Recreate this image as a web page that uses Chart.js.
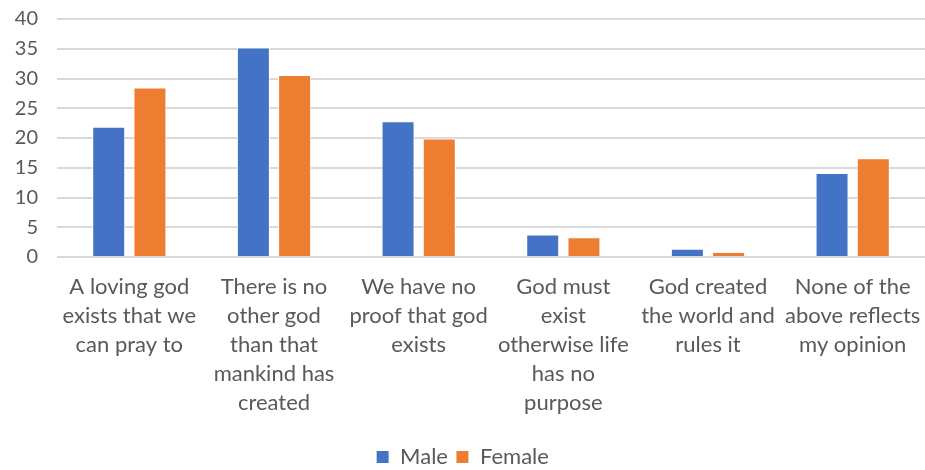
<!DOCTYPE html>
<html>
<head>
<meta charset="utf-8">
<script src="https://cdn.jsdelivr.net/npm/chart.js@4/dist/chart.umd.min.js"></script>
<style>
  html, body { margin: 0; padding: 0; background: #fff; }
  #wrap { width: 925px; height: 470px; }
</style>
</head>
<body>
<div id="wrap"><canvas id="c" width="925" height="470"></canvas></div>
<script>
const categories = [
  ["A loving god", "exists that we", "can pray to"],
  ["There is no", "other god", "than that", "mankind has", "created"],
  ["We have no", "proof that god", "exists"],
  ["God must", "exist", "otherwise life", "has no", "purpose"],
  ["God created", "the world and", "rules it"],
  ["None of the", "above reflects", "my opinion"]
];
const seriesNames = ["Male", "Female"];
const maleValues = [21.9, 35.2, 22.8, 3.8, 1.4, 14.1];
const femaleValues = [28.5, 30.6, 19.9, 3.3, 0.85, 16.6];
const yTicks = [0, 5, 10, 15, 20, 25, 30, 35, 40];

const FONT = "Lato, 'Open Sans', sans-serif";

function zeroPad(s) { s.paddingTop = 0; s.paddingBottom = 0; s.paddingLeft = 0; s.paddingRight = 0; }

new Chart(document.getElementById('c'), {
  type: 'bar',
  data: {
    labels: categories,
    datasets: [
      { label: seriesNames[0], data: maleValues, backgroundColor: '#4472C4', borderColor: '#ffffff', borderWidth: 1,
        categoryPercentage: 0.57, barPercentage: 0.8 },
      { label: seriesNames[1], data: femaleValues, backgroundColor: '#ED7D31', borderColor: '#ffffff', borderWidth: 1,
        categoryPercentage: 0.57, barPercentage: 0.8 }
    ]
  },
  options: {
    responsive: false,
    animation: false,
    layout: { padding: { top: 19, right: 0, left: 0, bottom: -8 } },
    plugins: {
      tooltip: { enabled: false },
      legend: {
        position: 'bottom',
        labels: {
          boxWidth: 13, boxHeight: 13, padding: 8,
          color: '#595959',
          font: { family: FONT, size: 22, lineHeight: 1 }
        }
      }
    },
    scales: {
      x: {
        grid: { display: false },
        border: { display: false },
        ticks: {
          color: '#595959',
          font: { family: FONT, size: 22, lineHeight: 1.32 },
          padding: 7,
          maxRotation: 0, autoSkip: false
        },
        afterFit: (s) => { s.height = 181; zeroPad(s); }
      },
      y: {
        min: 0, max: 40,
        afterBuildTicks: (s) => { s.ticks = yTicks.map(v => ({ value: v })); },
        grid: { color: '#d9d9d9', lineWidth: 2, drawTicks: false },
        border: { display: false },
        ticks: {
          color: '#595959',
          font: { family: FONT, size: 20 },
          padding: 19
        },
        afterFit: (s) => { s.width = 57; zeroPad(s); }
      }
    }
  }
});
</script>
</body>
</html>
